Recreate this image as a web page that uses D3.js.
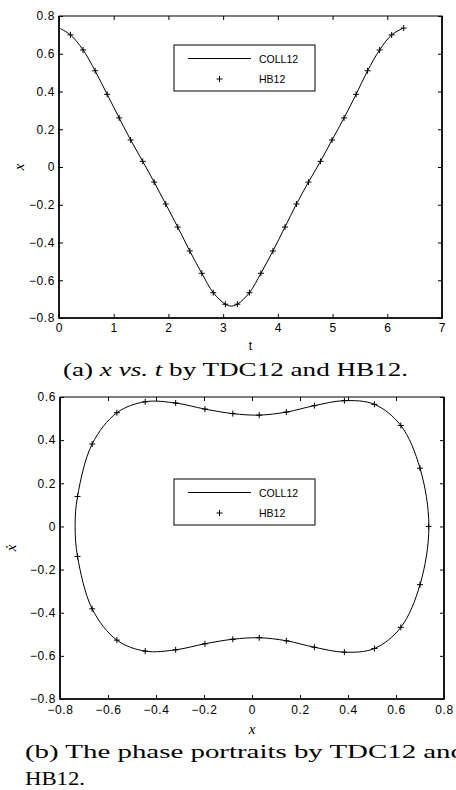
<!DOCTYPE html>
<html>
<head>
<meta charset="utf-8">
<script src="https://cdn.jsdelivr.net/npm/d3@7"></script>
<style>
  body { margin: 0; background: #fff; }
  svg { display: block; }
  .tick text { font-family: "Liberation Sans", Arial, sans-serif; font-size: 12px; letter-spacing: 0.6px; fill: #000; }
  .tick line { stroke: #000; }
</style>
</head>
<body>
<div id="chart"></div>
<script>
// HB12 samples of x(t)
const hbT = [0.21, 0.44, 0.66, 0.88, 1.10, 1.31, 1.53, 1.74, 1.95, 2.17, 2.39, 2.61, 2.82, 3.04,
             3.26, 3.48, 3.69, 3.91, 4.13, 4.34, 4.56, 4.78, 4.99, 5.21, 5.43, 5.64, 5.86, 6.08, 6.30];
const hbX = [0.70, 0.62, 0.51, 0.385, 0.26, 0.143, 0.03, -0.08, -0.196, -0.318, -0.445, -0.563, -0.666, -0.727,
             -0.727, -0.666, -0.563, -0.445, -0.318, -0.196, -0.08, 0.03, 0.143, 0.26, 0.385, 0.51, 0.62, 0.70, 0.736];

// COLL12 curve x(t)
const collT = [0, 0.21, 0.44, 0.66, 0.88, 1.10, 1.31, 1.53, 1.74, 1.95, 2.17, 2.39, 2.61, 2.82, 3.04, 3.15,
               3.26, 3.48, 3.69, 3.91, 4.13, 4.34, 4.56, 4.78, 4.99, 5.21, 5.43, 5.64, 5.86, 6.08, 6.30];
const collX = [0.737, 0.70, 0.62, 0.51, 0.385, 0.26, 0.143, 0.03, -0.08, -0.196, -0.318, -0.445, -0.563, -0.666, -0.727, -0.737,
               -0.727, -0.666, -0.563, -0.445, -0.318, -0.196, -0.08, 0.03, 0.143, 0.26, 0.385, 0.51, 0.62, 0.70, 0.737];

// HB12 phase portrait (x, xdot)
const hbPX = [0.736, 0.70, 0.62, 0.51, 0.385, 0.26, 0.143, 0.03, -0.08, -0.196, -0.318, -0.445, -0.563, -0.666, -0.727,
              -0.727, -0.666, -0.563, -0.445, -0.318, -0.196, -0.08, 0.03, 0.143, 0.26, 0.385, 0.51, 0.62, 0.70];
const hbPV = [0, -0.27, -0.468, -0.566, -0.583, -0.56, -0.53, -0.516, -0.523, -0.544, -0.572, -0.578, -0.527, -0.382, -0.139,
              0.139, 0.382, 0.527, 0.578, 0.572, 0.544, 0.523, 0.516, 0.53, 0.56, 0.583, 0.566, 0.468, 0.27];

// COLL12 phase portrait (closed loop)
const collPX = [0.737, 0.70, 0.62, 0.51, 0.385, 0.26, 0.143, 0.03, -0.08, -0.196, -0.318, -0.445, -0.563, -0.666, -0.727, -0.737,
                -0.727, -0.666, -0.563, -0.445, -0.318, -0.196, -0.08, 0.03, 0.143, 0.26, 0.385, 0.51, 0.62, 0.70];
const collPV = [0, -0.27, -0.468, -0.566, -0.583, -0.56, -0.53, -0.516, -0.523, -0.544, -0.572, -0.578, -0.527, -0.382, -0.139, 0,
                0.139, 0.382, 0.527, 0.578, 0.572, 0.544, 0.523, 0.516, 0.53, 0.56, 0.583, 0.566, 0.468, 0.27];

// tick values
const topXTicks = [0, 1, 2, 3, 4, 5, 6, 7];
const topYTicks = [-0.8, -0.6, -0.4, -0.2, 0, 0.2, 0.4, 0.6, 0.8];
const botXTicks = [-0.8, -0.6, -0.4, -0.2, 0, 0.2, 0.4, 0.6, 0.8];
const botYTicks = [-0.8, -0.6, -0.4, -0.2, 0, 0.2, 0.4, 0.6];

const legendNames = ["COLL12", "HB12"];

const W = 456, H = 790;
const svg = d3.select("#chart").append("svg")
    .attr("width", W)
    .attr("height", H);

svg.append("rect").attr("width", W).attr("height", H).attr("fill", "#fff");

const fmt = d => d === 0 ? "0" : (Number.isInteger(d) ? d3.format("d")(d) : d3.format(".1f")(d));

function panel(p) {
    const x = d3.scaleLinear().domain(p.xDomain).range([p.left, p.right]);
    const y = d3.scaleLinear().domain(p.yDomain).range([p.bottom, p.top]);
    const g = svg.append("g");

    // ticks on all four sides, pointing inward
    g.append("g")
        .attr("transform", "translate(0," + p.bottom + ")")
        .call(d3.axisBottom(x).tickValues(p.xTicks).tickSize(-4).tickSizeOuter(0).tickPadding(p.xPad).tickFormat(fmt))
        .call(a => a.select(".domain").remove());
    g.append("g")
        .attr("transform", "translate(0," + p.top + ")")
        .call(d3.axisTop(x).tickValues(p.xTicks).tickSize(-4).tickSizeOuter(0).tickFormat(""))
        .call(a => a.select(".domain").remove());
    g.append("g")
        .attr("transform", "translate(" + p.left + ",0)")
        .call(d3.axisLeft(y).tickValues(p.yTicks).tickSize(-4).tickSizeOuter(0).tickPadding(4).tickFormat(fmt))
        .call(a => a.select(".domain").remove());
    g.append("g")
        .attr("transform", "translate(" + p.right + ",0)")
        .call(d3.axisRight(y).tickValues(p.yTicks).tickSize(-4).tickSizeOuter(0).tickFormat(""))
        .call(a => a.select(".domain").remove());

    // box
    g.append("rect")
        .attr("x", p.left).attr("y", p.top)
        .attr("width", p.right - p.left).attr("height", p.bottom - p.top)
        .attr("fill", "none").attr("stroke", "#000").attr("stroke-width", 1);
    g.append("path")
        .attr("d", `M${p.left},${p.top}V${p.bottom}H${p.right}V${p.top}`)
        .attr("fill", "none").attr("stroke", "#000").attr("stroke-width", 1.6);

    // COLL12 line
    const line = d3.line()
        .x(d => x(d[0]))
        .y(d => y(d[1]))
        .curve(p.closed ? d3.curveCatmullRomClosed : d3.curveCatmullRom);
    g.append("path")
        .datum(d3.zip(p.lineX, p.lineY))
        .attr("d", line)
        .attr("fill", "none")
        .attr("stroke", "#000")
        .attr("stroke-width", 1);

    // HB12 markers
    const plus = "M-3,0H3M0,-3V3";
    g.selectAll(".hb")
        .data(d3.zip(p.ptX, p.ptY))
        .join("path")
        .attr("class", "hb")
        .attr("transform", d => "translate(" + x(d[0]) + "," + y(d[1]) + ")")
        .attr("d", plus)
        .attr("stroke", "#000")
        .attr("stroke-width", 1);

    // legend
    const lg = g.append("g").attr("transform", "translate(" + (p.left + p.legend[0]) + "," + (p.top + p.legend[1]) + ")");
    lg.append("rect").attr("width", 141).attr("height", 46)
        .attr("fill", "#fff").attr("stroke", "#000").attr("stroke-width", 1);
    lg.append("line").attr("x1", 14).attr("x2", 77).attr("y1", 13.5).attr("y2", 13.5)
        .attr("stroke", "#000").attr("stroke-width", 1);
    lg.append("path").attr("d", plus).attr("transform", "translate(45.5,34)")
        .attr("stroke", "#000").attr("stroke-width", 1);
    lg.selectAll(".lt")
        .data(legendNames)
        .join("text")
        .attr("x", 85)
        .attr("y", (d, i) => 17.5 + i * 20.5)
        .attr("font-family", "Liberation Sans, Arial, sans-serif")
        .attr("font-size", 10.5)
        .text(d => d);

    return { x, y, g };
}

const topPanel = panel({
    left: 59, right: 442, top: 16, bottom: 318,
    xDomain: [0, 7], yDomain: [-0.8, 0.8],
    xTicks: topXTicks, yTicks: topYTicks, xPad: 5,
    lineX: collT, lineY: collX, ptX: hbT, ptY: hbX,
    closed: false, legend: [115, 29]
});

const botPanel = panel({
    left: 60, right: 444, top: 397, bottom: 699,
    xDomain: [-0.8, 0.8], yDomain: [-0.8, 0.6],
    xTicks: botXTicks, yTicks: botYTicks, xPad: 6,
    lineX: collPX, lineY: collPV, ptX: hbPX, ptY: hbPV,
    closed: true, legend: [114, 82]
});

// axis labels
const serif = "'Liberation Serif', 'Times New Roman', serif";
svg.append("text")
    .attr("transform", "translate(24,167) rotate(-90)")
    .attr("text-anchor", "middle")
    .attr("font-family", serif).attr("font-style", "italic").attr("font-size", 15)
    .text("x");
svg.append("text")
    .attr("x", 250.5).attr("y", 350)
    .attr("text-anchor", "middle")
    .attr("font-family", "Liberation Sans, Arial, sans-serif").attr("font-size", 12)
    .text("t");
svg.append("text")
    .attr("transform", "translate(16,548) rotate(-90)")
    .attr("text-anchor", "middle")
    .attr("font-family", serif).attr("font-style", "italic").attr("font-size", 15)
    .text("\u1E8B");
svg.append("text")
    .attr("x", 252).attr("y", 734)
    .attr("text-anchor", "middle")
    .attr("font-family", serif).attr("font-style", "italic").attr("font-size", 15)
    .text("x");

// captions
const capA = svg.append("text")
    .attr("x", 63).attr("y", 376)
    .attr("font-family", serif).attr("font-size", 18)
    .attr("textLength", 345).attr("lengthAdjust", "spacingAndGlyphs");
capA.append("tspan").text("(a) ");
capA.append("tspan").attr("font-style", "italic").text("x vs. t");
capA.append("tspan").text(" by TDC12 and HB12.");

svg.append("text")
    .attr("x", 25).attr("y", 758)
    .attr("font-family", serif).attr("font-size", 18)
    .attr("textLength", 440).attr("lengthAdjust", "spacingAndGlyphs")
    .text("(b)  The phase portraits by TDC12 and");
svg.append("text")
    .attr("x", 25).attr("y", 785)
    .attr("font-family", serif).attr("font-size", 18)
    .attr("textLength", 60).attr("lengthAdjust", "spacingAndGlyphs")
    .text("HB12.");
</script>
</body>
</html>
